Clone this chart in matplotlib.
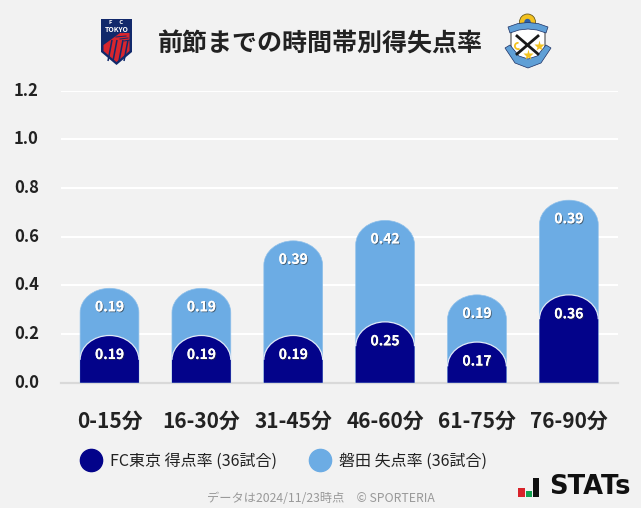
import matplotlib
matplotlib.use("Agg")
import matplotlib.pyplot as plt
import matplotlib.patheffects as pe
import matplotlib.transforms as mtrans
from matplotlib.path import Path
from matplotlib.patches import PathPatch, Polygon, Circle, Rectangle, Wedge
from matplotlib.lines import Line2D

plt.rcParams['font.family'] = ['Noto Sans CJK JP', 'DejaVu Sans']

categories = ['0-15分', '16-30分', '31-45分', '46-60分', '61-75分', '76-90分']
scored = [0.194, 0.194, 0.194, 0.25, 0.167, 0.361]
conceded = [0.194, 0.194, 0.389, 0.417, 0.194, 0.389]
yticks = [0.0, 0.2, 0.4, 0.6, 0.8, 1.0, 1.2]
title = '前節までの時間帯別得失点率'
legend_labels = ['FC東京 得点率 (36試合)', '磐田 失点率 (36試合)']
footer = 'データは2024/11/23時点　© SPORTERIA'

BG = '#f2f2f2'
NAVY = '#03038a'
SKY = '#6cace4'
W, H = 641, 508

fig = plt.figure(figsize=(W / 100, H / 100), dpi=100, facecolor=BG)
L, R, T, B = 61, 618, 90.7, 382.7
ax = fig.add_axes([L / W, 1 - B / H, (R - L) / W, (B - T) / H], facecolor=BG)
ax.set_xlim(-0.528, 5.535)
ax.set_ylim(0, 1.2)
ax.set_xticks(range(6), categories, fontsize=15, fontweight='bold', color='#222222')
ax.set_yticks(yticks, [f'{v:.1f}' for v in yticks], fontsize=12, fontweight='bold', color='#222222')
ax.tick_params(axis='both', length=0)
ax.tick_params(axis='x', pad=20)
ax.tick_params(axis='y', pad=16)
up = mtrans.ScaledTranslation(0, 1.5 / 72, fig.dpi_scale_trans)
for lab in ax.get_yticklabels():
    lab.set_transform(lab.get_transform() + up)
for s in ax.spines.values():
    s.set_visible(False)
ax.spines['bottom'].set_visible(True)
ax.spines['bottom'].set_color('#d9d9d9')
ax.spines['bottom'].set_linewidth(1.6)
ax.grid(axis='y', color='white', lw=1.5)
ax.set_axisbelow(True)

BW = 0.64
RY = 0.1
K = 0.5523


def arch(x, top):
    hw = BW / 2
    s = top - RY
    return ([(x - hw, 0), (x - hw, s),
             (x - hw, s + K * RY), (x - hw * K, top), (x, top),
             (x + hw * K, top), (x + hw, s + K * RY), (x + hw, s),
             (x + hw, 0), (x - hw, 0)],
            [Path.MOVETO, Path.LINETO, Path.CURVE4, Path.CURVE4, Path.CURVE4,
             Path.CURVE4, Path.CURVE4, Path.CURVE4, Path.LINETO, Path.CLOSEPOLY])


label_fx = [pe.withSimplePatchShadow(offset=(0.7, -0.7), shadow_rgbFace='#333333', alpha=0.6), pe.Normal()]
for i, (a, b) in enumerate(zip(scored, conceded)):
    v, c = arch(i, a + b)
    ax.add_patch(PathPatch(Path(v, c), fc=SKY, ec='#8fc0ea', lw=0.5, zorder=3))
    v, c = arch(i, a)
    ax.add_patch(PathPatch(Path(v, c), fc=NAVY, ec='none', zorder=4))
    ax.add_patch(PathPatch(Path(v[1:8], [Path.MOVETO] + c[2:8]), fc='none', ec='#dfe9f7', lw=0.9, zorder=5))
    ax.text(i, a - 0.08, f'{a:.2f}', color='white', fontsize=10, fontweight='bold',
            ha='center', va='center', zorder=6, path_effects=label_fx)
    ax.text(i, a + b - 0.078, f'{b:.2f}', color='white', fontsize=10, fontweight='bold',
            ha='center', va='center', zorder=6, path_effects=label_fx)

fig.text(320.5 / W, 1 - 44 / H, title, fontsize=18, fontweight='bold', color='#222222',
         ha='center', va='center')

handles = [Line2D([], [], ls='none', marker='o', ms=16, mfc=col, mec=col) for col in (NAVY, SKY)]
fig.legend(handles, legend_labels, loc='center', bbox_to_anchor=(282.5 / W, 1 - 461 / H),
           frameon=False, ncol=2, prop={'size': 11.5}, labelcolor='#222222',
           handletextpad=0.4, columnspacing=1.85, handlelength=1.6, borderpad=0)

fig.text(320.5 / W, 1 - 498.5 / H, footer, fontsize=8.8, color='#999999', ha='center', va='center')

# decorative overlay in pixel coordinates
ov = fig.add_axes([0, 0, 1, 1], facecolor='none')
ov.set_xlim(0, W)
ov.set_ylim(H, 0)
ov.axis('off')

# FC Tokyo crest
TK = '#12296b'
TR = '#d8262e'
ov.add_patch(Polygon([(101, 19), (132, 19), (132, 52), (116.5, 65), (101, 52)], closed=True, fc=TK, ec='none'))
ov.add_patch(Polygon([(103.5, 45), (120, 33), (129.5, 33), (129.5, 51), (116.5, 62), (103.5, 51)], closed=True, fc=TR, ec='none'))
for xs in (108, 113, 119, 124):
    ov.plot([xs, xs + 4], [61, 40], color=TK, lw=1.1, solid_capstyle='butt')
for k in range(3):
    ov.plot([116 + 4 * k, 126 + 2 * k], [37 + 2 * k, 36 + 2 * k], color=TK, lw=0.7)
ov.text(116.5, 29.5, 'TOKYO', fontsize=5, color='white', ha='center', va='center', fontweight='bold')
ov.text(116.5, 23, 'F     C', fontsize=4.2, color='white', ha='center', va='center', fontweight='bold')

# Jubilo crest
JB = '#5f9fd6'
JD = '#1c2f63'
ov.add_patch(Circle((527.5, 22), 8, fc='#f3c21f', ec='#6b5a1e', lw=0.6))
ov.add_patch(Circle((527.5, 22), 3.2, fc='#2c5fa8', ec='none'))
ov.add_patch(Polygon([(511, 33), (513, 28), (544, 28), (545, 33), (545, 52), (528, 67), (511, 52)], closed=True, fc='white', ec='#333333', lw=0.7))
ov.add_patch(Polygon([(508, 27), (518, 23.5), (528, 22.5), (538, 23.5), (548, 27), (546, 33), (537, 30), (528, 29), (519, 30), (510, 33)],
                     closed=True, fc=JB, ec=JD, lw=0.5))
ov.add_patch(Polygon([(505, 48), (510, 45), (519, 56), (528, 59), (537, 56), (546, 45), (551, 48), (541, 63), (528, 68), (515, 63)],
                     closed=True, fc=JB, ec=JD, lw=0.5))
ov.plot([517, 538], [36, 54], color='#1a1a1a', lw=2.0)
ov.plot([538, 517], [36, 54], color='#1a1a1a', lw=2.0)
ov.add_patch(Wedge((518, 46), 4, 60, 280, width=1.8, fc='#f3c21f', ec='none'))
ov.plot([538.5], [45.5], marker='*', ms=8, color='#f3c21f', mec='none')
ov.plot([527.5], [54.5], marker='*', ms=8, color='#f3c21f', mec='none')

# STATs logo
ov.add_patch(Rectangle((518, 488), 7, 9, fc='#d8232a', ec='none'))
ov.add_patch(Rectangle((526, 491), 6, 6, fc='#12a150', ec='none'))
ov.add_patch(Rectangle((533, 478), 6, 19, fc='#111111', ec='none'))
ov.text(549, 487.5, 'STATs', fontsize=18.5, family='DejaVu Sans', fontweight='bold', color='#111111',
        ha='left', va='center')

fig.savefig('out.png', dpi=100, facecolor=BG)
